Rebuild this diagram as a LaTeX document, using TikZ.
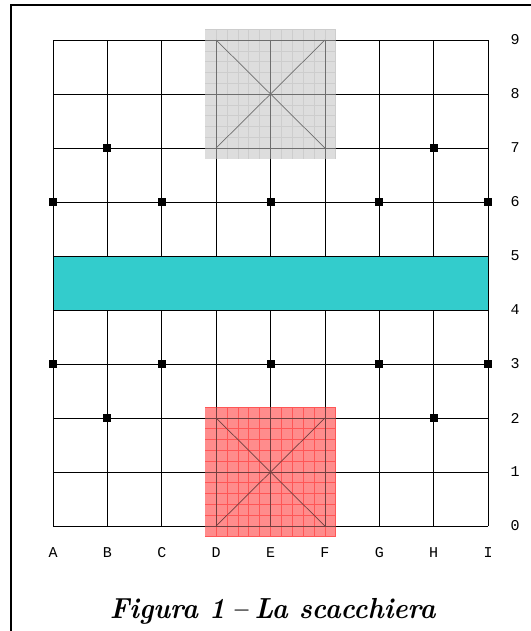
\documentclass[tikz,border=0pt]{standalone}
\usepackage{fontspec}
\setmonofont{Liberation Mono}
\usepackage{tikz}
\definecolor{river}{HTML}{33CCCC}
\definecolor{palacegray}{HTML}{DDDDDD}
\definecolor{graymesh}{HTML}{BDBDBD}
\definecolor{palacered}{HTML}{FF8C8C}
\definecolor{redmesh}{HTML}{FF2A2A}
\tikzset{
  frame/.style={draw=black, line width=2pt},
  board/.style={draw=black, line width=0.7pt},
  point/.style={
    rectangle,
    fill=black,
    minimum size=8pt,
    inner sep=0pt
  },
  rowlabel/.style={font=\fontsize{15}{17}\selectfont\ttfamily, inner sep=0pt},
  collabel/.style={font=\fontsize{15}{17}\selectfont\ttfamily, inner sep=0pt},
  caption/.style={font=\fontsize{29}{32}\selectfont\bfseries\itshape, inner sep=0pt, anchor=base}
}

\begin{document}
\begin{tikzpicture}[x=54.375pt, y=54pt]

\useasboundingbox (-0.975,-1.944) rectangle (8.772,9.741);
\draw[frame] (-0.772,-3) rectangle (10,9.648);

\fill[palacegray] (2.8,6.8) rectangle (5.2,9.2);
\draw[graymesh, line width=0.6pt, step=0.2] (2.8,6.8) grid (5.2,9.2);
\fill[palacered] (2.8,-0.2) rectangle (5.2,2.2);
\draw[redmesh, line width=0.7pt, step=0.2] (2.8,-0.2) grid (5.2,2.2);

\foreach \r in {0,...,9}
  \draw[board] (0,\r) -- (8,\r);
\foreach \c in {0,...,8} {
  \draw[board] (\c,0) -- (\c,4);
  \draw[board] (\c,5) -- (\c,9);
}

\draw[board] (3,0) -- (5,2) (3,2) -- (5,0);
\draw[board] (3,7) -- (5,9) (3,9) -- (5,7);

\fill[palacegray, fill opacity=.5] (2.8,6.8) rectangle (5.2,9.2);
\fill[palacered, fill opacity=.45] (2.8,-0.2) rectangle (5.2,2.2);

\draw[board, fill=river] (0,4) rectangle (8,5);

\foreach \c/\r in {1/7,7/7,0/6,2/6,4/6,6/6,8/6,0/3,2/3,4/3,6/3,8/3,1/2,7/2}
  \node[point] (p\c\r) at (\c,\r) {};

\foreach \r in {0,...,9}
  \node[rowlabel] (row\r) at (8.5,\r) {\r};
\foreach \c/\l in {0/A,1/B,2/C,3/D,4/E,5/F,6/G,7/H,8/I}
  \node[collabel] (col\l) at (\c,-0.49) {\l};

\node[caption] (title) at (4.04,-1.704) {\scalebox{0.93}[1]{Figura 1\hspace{0.25em}--\hspace{0.25em}La scacchiera}};

\end{tikzpicture}
\end{document}
